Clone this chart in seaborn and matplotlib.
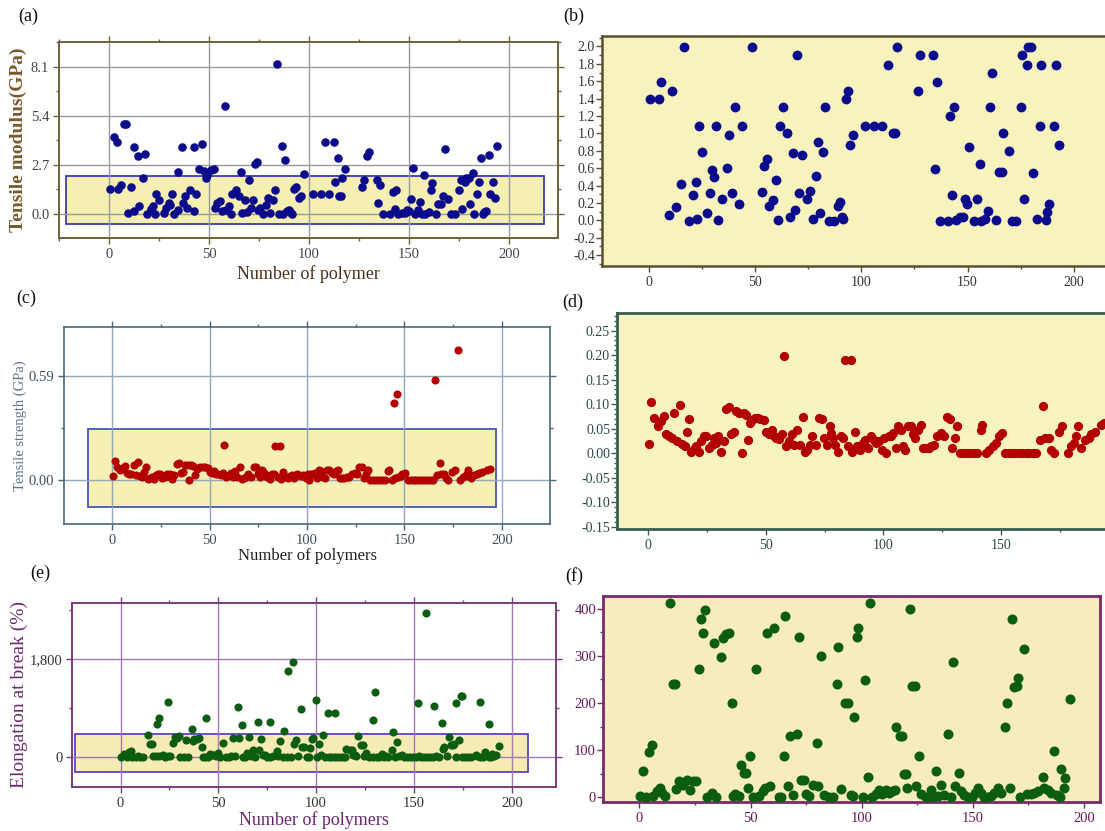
import matplotlib
matplotlib.use("Agg")
import matplotlib.pyplot as plt
from matplotlib.patches import Rectangle
from matplotlib.ticker import MultipleLocator, FixedLocator, FixedFormatter
import seaborn as sns
import numpy as np

sns.set_style("ticks")
plt.rcParams['font.family'] = ['Liberation Serif', 'DejaVu Serif']

# ---- tensile modulus (GPa): values inside the zoom box (panel b) ----
modulus_x = [0.5, 4.6, 5.9, 11, 9.3, 12.6, 15.2, 16.8, 19.1, 20.8,
             22.1, 22.9, 23.7, 25, 27.3, 28.6, 29.8, 30.7, 31.7, 32.7,
             34.7, 36.8, 37.9, 39.2, 40.6, 42.7, 43.7, 48.7, 53.1, 54,
             55.6, 56.7, 58.4, 60, 60.8, 61.7, 63.3, 64.9, 66.6, 67.9,
             68.8, 69.8, 70.8, 72, 74.7, 75.7, 77.2, 78.5, 79.7, 80.6,
             81.8, 82.9, 85, 87.2, 89.1, 90, 91.1, 91.6, 92.7, 93.7,
             94.8, 96, 101.9, 106, 109.9, 112.8, 114.9, 116.1, 116.6, 126.7,
             127.7, 133.8, 134.6, 135.7, 137, 140.6, 141.8, 142.8, 143.6, 144.7,
             146.4, 148, 148.8, 149.9, 150.8, 152.9, 154.5, 155.7, 156.5, 158.1,
             159.8, 160.8, 161.7, 163.5, 164.7, 166, 166.8, 169.3, 170.9, 172.9,
             175, 175.8, 176.6, 177.8, 178.7, 179.9, 180.7, 182.7, 184, 184.8,
             186.9, 187.6, 188.5, 190.5, 191.8, 193]
modulus_y = [1.39, 1.39, 1.59, 1.49, 0.06, 0.15, 0.42, 1.99, -0.01, 0.29,
             0.44, 0.02, 1.09, 0.79, 0.08, 0.31, 0.58, 0.5, 1.09, 0,
             0.24, 0.6, 0.98, 0.31, 1.3, 0.19, 1.09, 1.99, 0.33, 0.62,
             0.71, 0.16, 0.23, 0.46, 0, 1.09, 1.3, 1.0, 0.04, 0.77,
             0.12, 1.9, 0.32, 0.75, 0.24, 0.34, 0.02, 0.51, 0.9, 0.08,
             0.79, 1.3, -0.01, -0.01, 0.16, 0.21, 0.04, 0.02, 1.39, 1.49,
             0.87, 0.98, 1.09, 1.09, 1.09, 1.79, 1.0, 1.0, 1.99, 1.49,
             1.9, 1.9, 0.59, 1.59, -0.01, -0.01, 1.2, 0.29, 1.3, 0,
             0.04, 0.04, 0.24, 0.19, 0.84, -0.01, 0.24, 0.65, -0.01, 0.02,
             0.11, 1.3, 1.69, 0, 0.56, 0.56, 1.0, 0.8, -0.01, -0.01,
             1.3, 1.9, 0.25, 1.79, 1.99, 1.99, 0.54, 0.02, 1.09, 1.79,
             0, 0.1, 0.19, 1.09, 1.79, 0.87]
# values above the box (only visible in panel a)
modulus_hi_x = [2.3, 4.1, 7.7, 8.4, 12.5, 14.3, 18.2, 34.3, 36.6, 42.3,
                45.2, 46.4, 47.3, 48.75, 50.9, 52.3, 58, 66, 73.2, 74.1,
                83.9, 86.25, 88, 97.7, 108, 112.5, 114.3, 117.9, 128.9, 129.8,
                151.8, 157.7, 167.9, 182.1, 186.25, 190.2, 194.1]
modulus_hi_y = [4.22, 3.99, 4.95, 4.95, 3.71, 3.2, 3.29, 2.29, 3.71, 3.71,
                2.47, 3.86, 2.39, 2.16, 2.43, 2.47, 5.94, 2.29, 2.76, 2.89,
                8.28, 3.77, 2.98, 2.21, 3.99, 3.99, 3.07, 2.47, 3.2, 3.44,
                2.52, 2.16, 3.56, 2.25, 3.07, 3.25, 3.77]

# ---- tensile strength (GPa) ----
strength_x = [0.3, 1.3, 2.5, 4, 5.5, 6.6, 7.7, 8.7, 9.9, 11.1,
              12.1, 13.3, 14.3, 15.5, 16.5, 17.3, 18.2, 19.4, 20.5, 21.4,
              22.5, 23.5, 24.7, 25.8, 26.9, 27.9, 28.8, 29.8, 30.9, 32,
              33.2, 34.3, 35.3, 36.5, 37.5, 38.7, 39.7, 40.6, 41.7, 42.4,
              43.4, 44.3, 45.3, 46.5, 47.6, 49, 50, 51.3, 52.4, 53.5,
              54.5, 55.7, 56.7, 57.6, 58.6, 59.8, 60.9, 61.9, 63.1, 64.3,
              65.6, 66.5, 67.5, 68.7, 69.7, 71.2, 72.7, 73.7, 74.9, 76.1,
              77.1, 77.8, 78.6, 79.6, 80.8, 82, 83, 83.8, 86, 84.9,
              86.7, 87.9, 88.9, 90, 91.1, 92.3, 93.4, 94.8, 95.9, 97,
              98.2, 99.3, 100.3, 101.2, 102.2, 103.2, 104.1, 105.2, 106.2, 107.4,
              108.1, 109.2, 110.3, 111.5, 112.6, 113.6, 114.8, 115.9, 117, 118,
              119.2, 120.4, 121.4, 122.9, 124.4, 125.8, 126.9, 128.1, 129.2, 130.3,
              131.3, 132.5, 134, 135.4, 136.9, 138.4, 139.9, 141.4, 142.1, 143.6,
              145, 146.5, 148, 149, 150.2, 151.7, 153.2, 154.7, 156.1, 157.6,
              159.1, 160.6, 162, 163.5, 164.7, 166.5, 168, 168.7, 170.2, 171.2,
              172.4, 174.6, 176.1, 178.6, 179.8, 180.9, 182, 182.7, 184.2, 185.7,
              187.2, 188.3, 190, 192.3, 193.7]
strength_y = [0.019, 0.104, 0.072, 0.055, 0.065, 0.076, 0.038, 0.034, 0.031, 0.082,
              0.024, 0.099, 0.019, 0.015, 0.044, 0.07, 0.003, 0.008, 0.014, 0.003,
              0.024, 0.034, 0.034, 0.01, 0.017, 0.031, 0.02, 0.034, 0.003, 0.024,
              0.089, 0.094, 0.038, 0.044, 0.085, 0.082, 0.001, 0.082, 0.078, 0.027,
              0.061, 0.068, 0.072, 0.072, 0.07, 0.068, 0.044, 0.038, 0.048, 0.034,
              0.031, 0.029, 0.038, 0.199, 0.014, 0.024, 0.038, 0.017, 0.048, 0.017,
              0.074, 0.003, 0.007, 0.017, 0.034, 0.017, 0.072, 0.07, 0.031, 0.017,
              0.055, 0.041, 0.031, 0.017, 0.003, 0.034, 0.031, 0.19, 0.19, 0.015,
              0.003, 0.044, 0.014, 0.007, 0.02, 0.027, 0.01, 0.034, 0.027, 0.02,
              0.024, 0.007, 0.031, 0.001, 0.034, 0.034, 0.041, 0.01, 0.055, 0.048,
              0.014, 0.007, 0.055, 0.055, 0.038, 0.031, 0.048, 0.058, 0.01, 0.01,
              0.01, 0.014, 0.017, 0.034, 0.041, 0.034, 0.074, 0.07, 0.01, 0.031,
              0.055, 0, 0, 0, 0, 0, 0, 0.048, 0.058, 0,
              0.007, 0.014, 0.02, 0.034, 0.041, 0, 0, 0, 0, 0,
              0, 0, 0, 0, 0, 0.027, 0.097, 0.031, 0.031, 0.007,
              0.001, 0.044, 0.055, 0, 0.014, 0.02, 0.034, 0.055, 0.01, 0.027,
              0.031, 0.038, 0.044, 0.058, 0.061]
strength_hi_x = [144.7, 146, 165.6, 177.7]
strength_hi_y = [0.435, 0.486, 0.567, 0.737]

# ---- elongation at break (%) ----
elong_x = [0.3, 1.6, 3.1, 4.4, 5.5, 5.9, 7.8, 9.1, 10.2, 11.7,
           13.8, 14.9, 16, 16.4, 18, 19.6, 21.6, 22.7, 24.3, 25.5,
           26.6, 27.7, 28.8, 29.7, 30.5, 32.6, 33.6, 34.4, 36.8, 37.6,
           39.1, 40.2, 41.5, 42.3, 43, 44.6, 45.7, 46.9, 48, 48.8,
           49.8, 50.9, 52.4, 54, 55.6, 56.3, 57.6, 58.7, 60.7, 62.6,
           63.7, 64.9, 65.7, 66.8, 67.6, 68.9, 70.9, 71.7, 72.8, 73.9,
           75.1, 76.4, 77.9, 79.8, 80.3, 81.7, 82.9, 85.3, 86.9, 88.7,
           89.5, 90.8, 92.6, 93.9, 95.1, 96.2, 96.7, 97.8, 98.6, 100.5,
           101.7, 102.7, 103.6, 104.5, 106.4, 107.7, 109.2, 110.8, 112.4, 113.9,
           115, 115.5, 117.1, 118.2, 118.9, 120, 120.5, 121.6, 122.8, 123.9,
           124.4, 125.7, 126.8, 129.1, 131.1, 132.2, 133.5, 134.6, 135.8, 136.9,
           138.8, 140.1, 141.3, 142.1, 143.7, 144.8, 146.3, 147.9, 149.5, 151,
           152.6, 153.7, 154.9, 156.5, 158.1, 159.6, 161.2, 162.8, 164.6, 165.6,
           166.7, 167.8, 168.7, 169.8, 170.6, 171.4, 173.2, 174.5, 176.1, 177.6,
           179.2, 181.5, 182.3, 183.9, 185.4, 186.5, 188.1, 189.4, 189.7, 190.9,
           191.7, 193.7]
elong_y = [2, 55, 1, 97, 111, 2, 13, 20, 9, 2,
           411, 240, 240, 18, 34, 27, 37, 16, 34, 34,
           273, 379, 349, 398, 1, 9, 327, 1, 298, 337,
           347, 349, 199, 2, 6, 2, 69, 51, 51, 20,
           87, 1, 271, 2, 13, 20, 349, 23, 360, 1,
           1, 87, 384, 23, 130, 4, 134, 339, 36, 37,
           6, 2, 27, 115, 23, 299, 4, 1, 1, 240,
           319, 18, 199, 199, 4, 2, 170, 339, 360, 1,
           249, 44, 412, 1, 6, 16, 6, 16, 9, 13,
           16, 149, 130, 130, 50, 50, 20, 399, 235, 235,
           23, 88, 6, 1, 16, 1, 55, 2, 27, 4,
           135, 1, 287, 23, 51, 13, 4, 1, 1, 9,
           20, 9, 1, 1, 2, 9, 20, 9, 149, 199,
           20, 379, 233, 235, 252, 1, 315, 6, 6, 9,
           13, 43, 20, 16, 9, 99, 4, 1, 60, 20,
           41, 208]
elong_hi_x = [18.6, 19.9, 24.1, 36.5, 43.8, 60.3, 62.1, 70.1, 76.2, 83.8,
              85.8, 88.4, 92, 99.9, 105.9, 109.6, 129.1, 130, 139.2, 152.3,
              156, 160.2, 164.2, 171.7, 173.9, 174.7, 183.9, 188.1]
elong_hi_y = [616, 720, 1025, 525, 732, 933, 598, 647, 647, 494,
              1592, 1757, 890, 1055, 811, 811, 689, 1208, 476, 994,
              2660, 946, 640, 994, 1135, 1135, 1025, 610]

x_ticks = [0, 50, 100, 150, 200]

W, H = 1105, 831
fig = plt.figure(figsize=(W / 100, H / 100), dpi=100)


def add_axes(l, t, r, b):
    return fig.add_axes([l / W, 1 - b / H, (r - l) / W, (b - t) / H])


def style(ax, frame, label_color, lw, size, ticks=x_ticks):
    for sp in ax.spines.values():
        sp.set_color(frame)
        sp.set_linewidth(lw)
    ax.tick_params(which='both', color=frame, labelcolor=label_color,
                   labelsize=size, direction='out', width=1)
    ax.tick_params(which='major', length=4, pad=3)
    ax.tick_params(which='minor', length=2.5)
    ax.xaxis.set_major_locator(FixedLocator(ticks))
    ax.xaxis.set_minor_locator(MultipleLocator(25))


# ---------------- (a) ----------------
ax = add_axes(59, 42, 558, 238)
ax.set_facecolor('white')
ax.add_patch(Rectangle((-21.4, -0.53), 238.7, 2.65, facecolor='#f6efb2',
                       edgecolor='#3a3ab8', lw=1.3, zorder=0.3))
sns.scatterplot(x=modulus_x + modulus_hi_x, y=modulus_y + modulus_hi_y, ax=ax,
                color='#0b0b8c', s=38, linewidth=0, zorder=3)
style(ax, '#6e6236', '#444444', 1.4, 10.5)
ax.set_yticks([0, 2.7, 5.4, 8.1])
ax.set_yticklabels(['0.0', '2.7', '5.4', '8.1'])
ax.yaxis.set_minor_locator(MultipleLocator(1.35))
ax.set_xlim(-25, 224.5)
ax.set_ylim(-1.32, 9.47)
ax.tick_params(which='both', top=True, right=True)
ax.set_axisbelow(True)
ax.grid(True, which='major', color='#9a9a9a', lw=1.0)
ax.set_xlabel('Number of polymer', fontsize=13, color='#4a3318', labelpad=3)
ax.set_ylabel('Tensile modulus(GPa)', fontsize=14, color='#7a5a2c',
              fontweight='bold', labelpad=3)

# ---------------- (b) ----------------
ax = add_axes(602, 36, 1105, 266)
ax.set_facecolor('#f8f3bd')
sns.scatterplot(x=modulus_x, y=modulus_y, ax=ax, color='#0b0b8c', s=50,
                linewidth=0, zorder=3)
style(ax, '#5a5030', '#333333', 1.8, 10)
ax.spines['right'].set_visible(False)
ax.set_yticks(np.round(np.arange(-0.4, 2.01, 0.2), 1))
ax.yaxis.set_major_formatter(plt.FuncFormatter(lambda v, p: f'{v:.1f}'))
ax.yaxis.set_minor_locator(MultipleLocator(0.1))
ax.set_xlim(-22, 214.7)
ax.set_ylim(-0.525, 2.12)
ax.tick_params(axis='y', pad=1)

# ---------------- (c) ----------------
ax = add_axes(64, 327, 550, 524)
ax.set_facecolor('white')
ax.add_patch(Rectangle((-12.5, -0.155), 209.4, 0.442, facecolor='#f7f0b4',
                       edgecolor='#4656b4', lw=1.3, zorder=0.3))
sns.scatterplot(x=strength_x + strength_hi_x, y=strength_y + strength_hi_y,
                ax=ax, color='#b30000', s=34, linewidth=0, zorder=3)
style(ax, '#48687a', '#3e5060', 1.2, 10.5)
ax.set_yticks([0, 0.59])
ax.set_yticklabels(['0.00', '0.59'])
ax.yaxis.set_minor_locator(FixedLocator([0.295]))
ax.set_xlim(-24.7, 224.7)
ax.set_ylim(-0.252, 0.869)
ax.tick_params(which='both', top=True, right=True)
ax.set_axisbelow(True)
ax.grid(True, which='major', color='#93a8b8', lw=1.0)
ax.set_xlabel('Number of polymers', fontsize=12, color='#222222', labelpad=1)
ax.set_ylabel('Tensile strength (GPa)', fontsize=10.5, color='#5c7488',
              labelpad=1)

# ---------------- (d) ----------------
ax = add_axes(617, 313, 1105, 529)
ax.set_facecolor('#f6f3c0')
sns.scatterplot(x=strength_x, y=strength_y, ax=ax, color='#b30000', s=44,
                linewidth=0, zorder=3)
style(ax, '#3a5e52', '#2c4848', 2.0, 10, ticks=[0, 50, 100, 150])
ax.spines['right'].set_visible(False)
ax.set_yticks(np.round(np.arange(-0.15, 0.251, 0.05), 2))
ax.yaxis.set_major_formatter(plt.FuncFormatter(lambda v, p: f'{v:.2f}'))
ax.yaxis.set_minor_locator(MultipleLocator(0.01))
ax.set_xlim(-13.3, 194.2)
ax.set_ylim(-0.155, 0.286)
ax.tick_params(axis='y', pad=1)

# ---------------- (e) ----------------
ax = add_axes(72, 603, 556, 787)
ax.set_facecolor('white')
ax.add_patch(Rectangle((-23.4, -268), 231.6, 695, facecolor='#f6ebb4',
                       edgecolor='#5a42c4', lw=1.3, zorder=0.3))
sns.scatterplot(x=elong_x + elong_hi_x, y=elong_y + elong_hi_y, ax=ax,
                color='#0c5c12', s=34, linewidth=0, zorder=3)
style(ax, '#7a3c7c', '#333333', 1.4, 10.5)
ax.yaxis.set_major_locator(FixedLocator([0, 1800]))
ax.yaxis.set_major_formatter(FixedFormatter(['0', '1,800']))
ax.yaxis.set_minor_locator(FixedLocator([900, 2700]))
ax.set_xlim(-24.8, 222.6)
ax.set_ylim(-543, 2837)
ax.tick_params(which='both', top=True, right=True)
ax.set_axisbelow(True)
ax.grid(True, which='major', color='#a57ab4', lw=1.0)
ax.set_xlabel('Number of polymers', fontsize=13, color='#6a2670', labelpad=1)
ax.set_ylabel('Elongation at break (%)', fontsize=14, color='#6a2a72',
              labelpad=1)

# ---------------- (f) ----------------
ax = add_axes(603, 596, 1100, 802)
ax.set_facecolor('#f7ecbf')
sns.scatterplot(x=elong_x, y=elong_y, ax=ax, color='#0c5c12', s=52,
                linewidth=0, zorder=3)
style(ax, '#7a2a6c', '#6a1a5e', 2.0, 10.5)
ax.set_yticks([0, 100, 200, 300, 400])
ax.yaxis.set_minor_locator(MultipleLocator(50))
ax.set_xlim(-16.4, 207.3)
ax.set_ylim(-9.9, 426.8)
ax.tick_params(axis='y', pad=1)

# panel letters
for lab, px, py in [('(a)', 28, 16), ('(b)', 574, 16), ('(c)', 26, 298),
                    ('(d)', 573, 302), ('(e)', 40, 573), ('(f)', 574, 576)]:
    fig.text(px / W, 1 - py / H, lab, fontsize=13, ha='center', va='center',
             color='#111111')

fig.savefig('out.png', dpi=100, facecolor='white')
